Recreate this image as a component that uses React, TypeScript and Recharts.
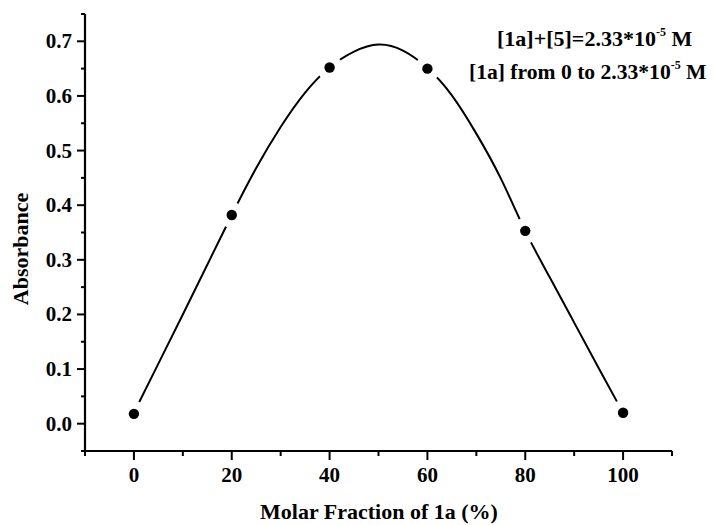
import {
  ComposedChart,
  Customized,
  Line,
  Scatter,
  XAxis,
  YAxis,
} from "recharts";

// measured points (molar fraction %, absorbance)
const fractions = [0, 20, 40, 60, 80, 100];
const absorbance = [0.018, 0.382, 0.652, 0.65, 0.353, 0.02];

// fitted curve
const fitX = [0, 5, 10, 15, 20, 25, 30, 35, 40, 45, 50, 55, 60, 65, 70, 75, 80, 85, 90, 95, 100];
const fitY = [
  0.02, 0.11, 0.2, 0.291, 0.382, 0.468, 0.543, 0.606, 0.652, 0.681, 0.694, 0.683, 0.651, 0.601,
  0.531, 0.449, 0.353, 0.268, 0.185, 0.102, 0.02,
];

const xTicks = [-10, 0, 10, 20, 30, 40, 50, 60, 70, 80, 90, 100, 110];
const yTicks = [-0.05, 0, 0.05, 0.1, 0.15, 0.2, 0.25, 0.3, 0.35, 0.4, 0.45, 0.5, 0.55, 0.6, 0.65, 0.7, 0.75];

const points = fractions.map((x, i) => ({ x, y: absorbance[i] }));
const curve = fitX.map((x, i) => ({ x, y: fitY[i] }));

const FONT = "'Liberation Serif', 'Times New Roman', serif";

function XTick(props: any) {
  const { x, y, payload } = props;
  const v = payload.value as number;
  const major = v % 20 === 0;
  return (
    <g>
      <line x1={x} x2={x} y1={y} y2={y + (major ? 9 : 5)} stroke="#000" strokeWidth={2} />
      {major && (
        <text x={x} y={y + 31} textAnchor="middle" fontFamily={FONT} fontWeight="bold" fontSize={21} fill="#000">
          {v}
        </text>
      )}
    </g>
  );
}

function YTick(props: any) {
  const { x, y, payload } = props;
  const v = payload.value as number;
  const major = Math.abs(v * 10 - Math.round(v * 10)) < 1e-6;
  return (
    <g>
      <line x1={x} x2={x - (major ? 8 : 4)} y1={y} y2={y} stroke="#000" strokeWidth={2} />
      {major && (
        <text x={x - 13} y={y + 7} textAnchor="end" fontFamily={FONT} fontWeight="bold" fontSize={21} fill="#000">
          {v.toFixed(1)}
        </text>
      )}
    </g>
  );
}

function Dot(props: any) {
  const { cx, cy } = props;
  return (
    <g>
      <circle cx={cx} cy={cy} r={13} fill="#fff" />
      <circle cx={cx} cy={cy} r={5.2} fill="#000" />
    </g>
  );
}

function Labels() {
  const t = { fontFamily: FONT, fontWeight: "bold" as const, fill: "#000" };
  return (
    <g>
      <text x={379} y={519} textAnchor="middle" fontSize={22} {...t}>
        Molar Fraction of 1a (%)
      </text>
      <text x={28} y={249} textAnchor="middle" fontSize={22} transform="rotate(-90, 28, 249)" {...t}>
        Absorbance
      </text>
      <text x={497} y={46} fontSize={22} {...t}>
        [1a]+[5]=2.33*10
        <tspan fontSize={12} dy={-10}>-5</tspan>
        <tspan dy={10}> M</tspan>
      </text>
      <text x={469} y={79} fontSize={21.6} {...t}>
        [1a] from 0 to 2.33*10
        <tspan fontSize={12} dy={-10}>-5</tspan>
        <tspan dy={10}> M</tspan>
      </text>
    </g>
  );
}

export default function App() {
  return (
    <div style={{ position: "absolute", left: 0, top: 0, background: "#fff" }}>
      <ComposedChart width={714} height={525} margin={{ top: 14, right: 42, bottom: 0, left: 0 }}>
        <XAxis
          dataKey="x"
          type="number"
          domain={[-10, 110]}
          ticks={xTicks}
          interval={0}
          height={74}
          tickSize={0}
          tickMargin={0}
          tickLine={false}
          axisLine={{ stroke: "#000", strokeWidth: 2.2 }}
          tick={<XTick />}
          allowDataOverflow
        />
        <YAxis
          type="number"
          domain={[-0.05, 0.75]}
          ticks={yTicks}
          interval={0}
          width={85}
          tickSize={0}
          tickMargin={0}
          tickLine={false}
          axisLine={{ stroke: "#000", strokeWidth: 2.2 }}
          tick={<YTick />}
          allowDataOverflow
        />
        <Line
          data={curve}
          dataKey="y"
          type="natural"
          stroke="#000"
          strokeWidth={2}
          dot={false}
          activeDot={false}
          isAnimationActive={false}
        />
        <Scatter data={points} dataKey="y" shape={<Dot />} isAnimationActive={false} />
        <Customized component={<Labels />} />
      </ComposedChart>
    </div>
  );
}
